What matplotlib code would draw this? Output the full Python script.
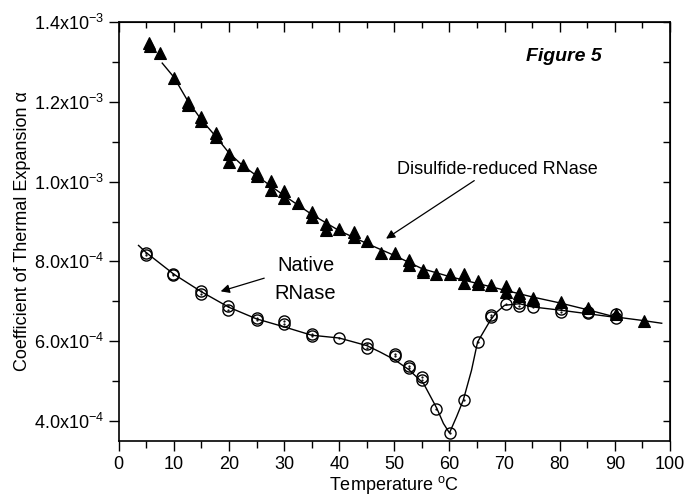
import matplotlib
matplotlib.use("Agg")
import matplotlib.pyplot as plt
from matplotlib.ticker import MultipleLocator, FuncFormatter

plt.rcParams["font.family"] = ["Liberation Sans", "DejaVu Sans"]
plt.rcParams["mathtext.fontset"] = "custom"
plt.rcParams["mathtext.rm"] = "Liberation Sans"
plt.rcParams["mathtext.it"] = "Liberation Sans:italic"
plt.rcParams["mathtext.bf"] = "Liberation Sans:bold"

# disulfide-reduced RNase (triangles)
red_t = [5.5, 5.7, 7.5, 10.0, 12.6, 12.6, 15.0, 15.0, 17.6, 17.6, 20.0, 20.0,
         22.6, 25.0, 25.0, 27.6, 27.6, 30.0, 30.0, 32.5, 35.1, 35.1, 37.6, 37.6,
         40.0, 42.6, 42.6, 45.1, 47.6, 50.1, 52.7, 52.7, 55.2, 55.2, 57.6, 60.1,
         62.7, 62.7, 65.2, 65.2, 67.6, 70.2, 70.2, 72.7, 72.7, 75.2, 75.2, 80.2,
         85.2, 90.2, 95.3]
red_a = [1.348, 1.340, 1.322, 1.259, 1.200, 1.192, 1.161, 1.152, 1.121, 1.111,
         1.069, 1.050, 1.042, 1.021, 1.013, 1.002, 0.978, 0.976, 0.958, 0.947,
         0.923, 0.911, 0.894, 0.879, 0.882, 0.873, 0.861, 0.850, 0.821, 0.821,
         0.803, 0.792, 0.779, 0.773, 0.768, 0.768, 0.769, 0.746, 0.751, 0.744,
         0.742, 0.738, 0.723, 0.721, 0.713, 0.709, 0.703, 0.698, 0.683, 0.667,
         0.650]

# native RNase (open circles)
nat_t = [5.0, 5.0, 9.9, 9.9, 14.9, 14.9, 19.9, 19.9, 25.0, 25.0, 30.0, 30.0,
         35.0, 35.0, 40.0, 45.0, 45.0, 50.1, 50.1, 52.7, 52.7, 55.0, 55.0, 57.6,
         60.1, 62.7, 65.2, 67.6, 67.6, 70.2, 72.7, 72.7, 75.1, 80.2, 80.2, 85.2,
         85.2, 90.2, 90.2]
nat_a = [0.820, 0.815, 0.765, 0.768, 0.727, 0.719, 0.688, 0.679, 0.659, 0.652,
         0.650, 0.642, 0.617, 0.612, 0.608, 0.594, 0.584, 0.569, 0.562, 0.538,
         0.533, 0.511, 0.504, 0.430, 0.371, 0.452, 0.598, 0.665, 0.660, 0.692,
         0.696, 0.689, 0.686, 0.680, 0.673, 0.673, 0.670, 0.668, 0.659]

# fitted curves
red_fit_t = [7.9, 10, 12.5, 15, 17.5, 20, 22.5, 25, 27.5, 30, 35, 40, 45, 50,
             55, 60, 65, 70, 75, 80, 85, 90, 95, 98.5]
red_fit_a = [1.297, 1.262, 1.203, 1.155, 1.115, 1.072, 1.040, 1.015, 0.990,
             0.965, 0.918, 0.877, 0.845, 0.815, 0.782, 0.762, 0.745, 0.728,
             0.711, 0.696, 0.679, 0.661, 0.652, 0.645]
nat_fit_t = [3.6, 5, 10, 15, 20, 25, 30, 35, 40, 45, 47.4, 50, 52.6, 55.3,
             57.7, 58.9, 60, 61.3, 62.5, 64, 65.1, 67.4, 68.5, 70, 72.7, 75,
             80, 85, 90]
nat_fit_a = [0.840, 0.822, 0.768, 0.724, 0.685, 0.656, 0.636, 0.615, 0.608,
             0.589, 0.573, 0.554, 0.529, 0.494, 0.432, 0.394, 0.370, 0.411,
             0.452, 0.527, 0.598, 0.652, 0.672, 0.690, 0.694, 0.686, 0.678,
             0.669, 0.660]

scale = 1e-3
fig = plt.figure(figsize=(6.88, 4.96), dpi=100)
ax = fig.add_axes([0.1725, 0.111, 0.8013, 0.8446])

ax.plot(red_fit_t, [v * scale for v in red_fit_a], color="black", lw=1.0)
ax.plot(nat_fit_t, [v * scale for v in nat_fit_a], color="black", lw=1.0)
ax.plot(red_t, [v * scale for v in red_a], "^", color="black", ms=9,
        markeredgewidth=0.8, zorder=3)
ax.plot(nat_t, [v * scale for v in nat_a], "o", mfc="none", mec="black",
        ms=8, markeredgewidth=1.0, zorder=3)
ax.plot(nat_t, [v * scale for v in nat_a], ".", color="black", ms=1.2, zorder=4)

ax.set_xlim(0, 100)
ax.set_ylim(3.5e-4, 1.4e-3)
ax.xaxis.set_major_locator(MultipleLocator(10))
ax.xaxis.set_minor_locator(MultipleLocator(5))
ax.yaxis.set_major_locator(MultipleLocator(2e-4))
ax.yaxis.set_minor_locator(MultipleLocator(1e-4))


def sci_fmt(v, pos):
    if v >= 1e-3 - 1e-9:
        return f"{v / 1e-3:.1f}x10$^{{-3}}$"
    return f"{v / 1e-4:.1f}x10$^{{-4}}$"


ax.yaxis.set_major_formatter(FuncFormatter(sci_fmt))
ax.tick_params(which="both", direction="out", labelsize=13, width=1.0)
ax.tick_params(which="major", length=7)
ax.tick_params(which="minor", length=5)
for s in ax.spines.values():
    s.set_linewidth(1.2)

top = ax.secondary_xaxis("top")
top.xaxis.set_major_locator(MultipleLocator(10))
top.xaxis.set_minor_locator(MultipleLocator(5))
top.tick_params(which="both", direction="in", labeltop=False, width=1.0)
top.tick_params(which="major", length=7)
top.tick_params(which="minor", length=4)
right = ax.secondary_yaxis("right")
right.yaxis.set_major_locator(MultipleLocator(2e-4))
right.yaxis.set_minor_locator(MultipleLocator(1e-4))
right.tick_params(which="both", direction="in", labelright=False, width=1.0, length=5)

ax.set_xlabel("Temperature $^{\\rm o}$C", fontsize=13, labelpad=1)
ax.set_ylabel("Coefficient of Thermal Expansion \u03b1", fontsize=13, labelpad=2)

ax.text(87.7, 1.3025e-3, "Figure 5", fontsize=14, fontweight="bold",
        fontstyle="italic", ha="right", va="baseline")
ax.text(68.7, 1.02e-3, "Disulfide-reduced RNase", fontsize=13,
        ha="center", va="baseline")
ax.text(33.9, 7.77e-4, "Native", fontsize=14.5, ha="center", va="baseline")
ax.text(33.9, 7.05e-4, "RNase", fontsize=14.5, ha="center", va="baseline")

arrow = dict(arrowstyle="-|>", color="black", lw=0.9, shrinkA=0, shrinkB=0,
             mutation_scale=13)
ax.annotate("", xy=(48.5, 8.57e-4), xytext=(64.5, 1.0025e-3), arrowprops=arrow)
ax.annotate("", xy=(18.5, 7.25e-4), xytext=(26.4, 7.58e-4), arrowprops=arrow)

fig.savefig("out.png", dpi=100)
